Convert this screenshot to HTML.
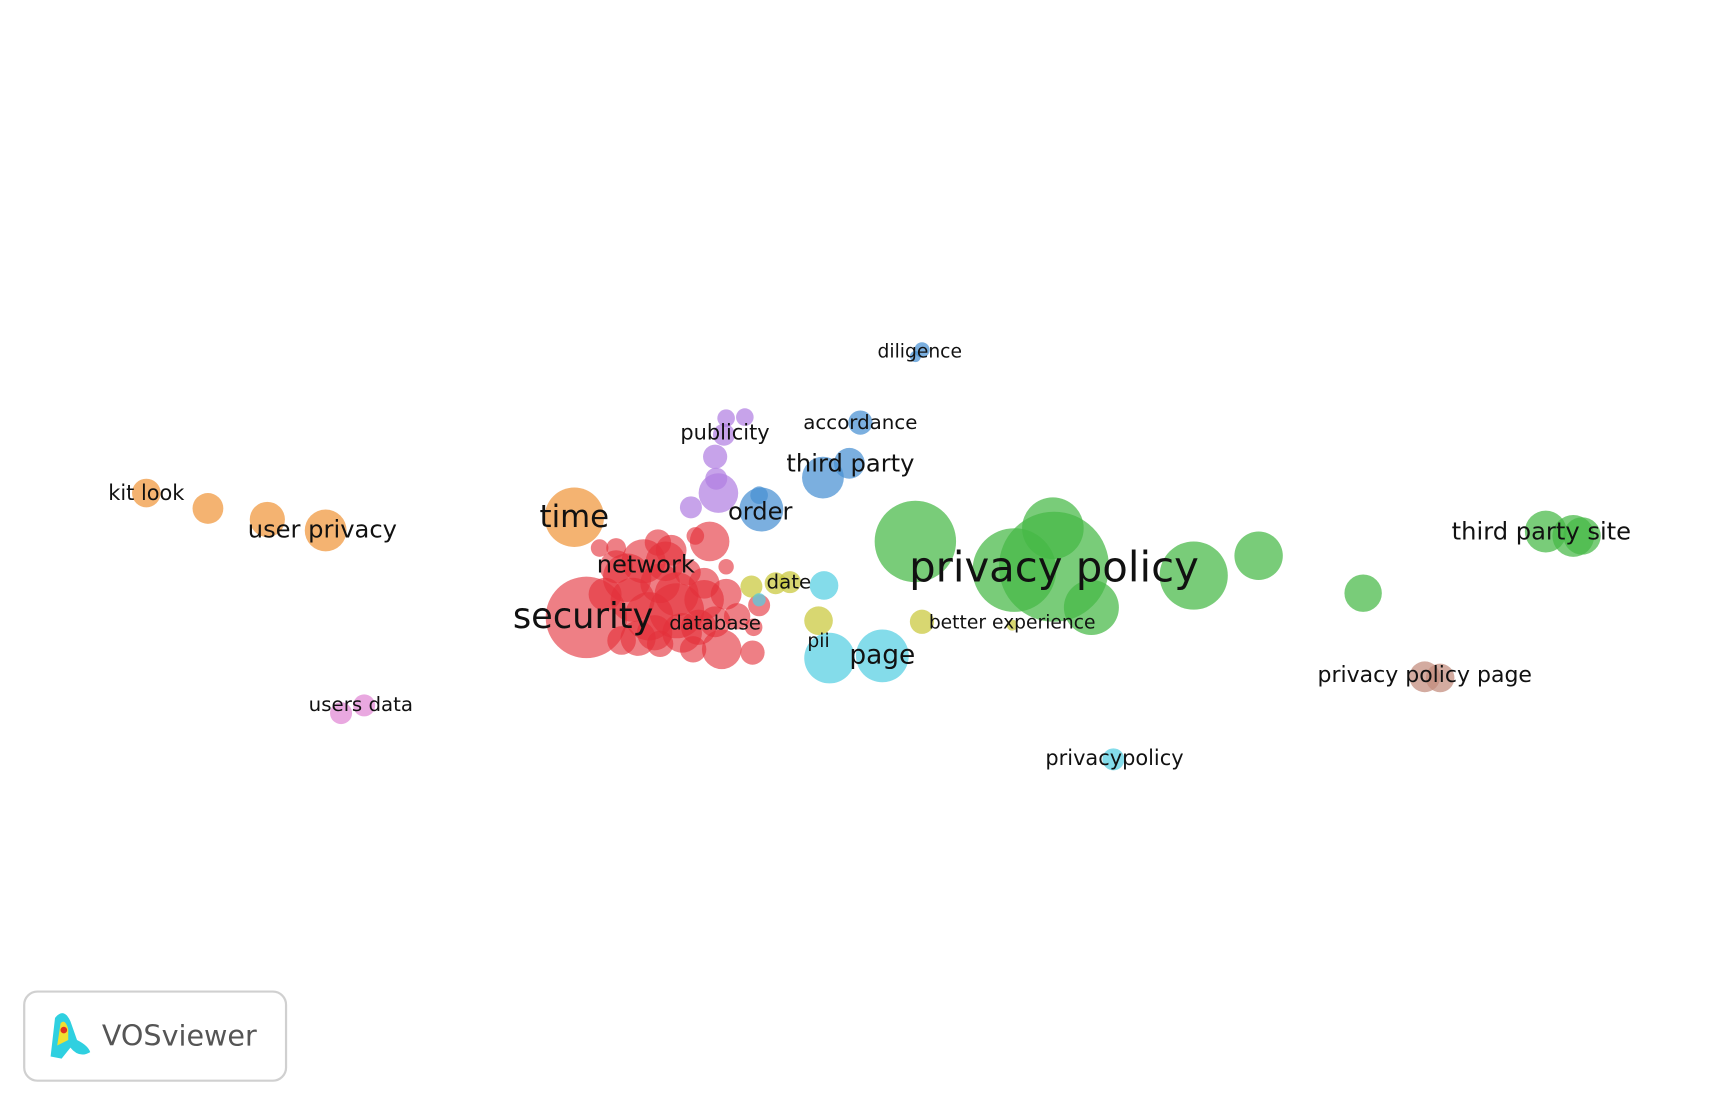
<!DOCTYPE html>
<html><head><meta charset="utf-8">
<style>
html,body{margin:0;padding:0;background:#fff;}
svg{display:block;}
text{font-family:"DejaVu Sans","Liberation Sans",sans-serif;fill:#111;text-anchor:middle;dominant-baseline:central;}
</style></head>
<body>
<svg id="map" width="1724" height="1106" viewBox="0 0 1567 1005" preserveAspectRatio="none" xmlns="http://www.w3.org/2000/svg">
<g id="nodes"></g>
<g id="labels"></g>
<g>
<rect x="22" y="901" width="238" height="81" rx="12" fill="#fff" stroke="#d0d0d0" stroke-width="2"/>
<path d="M46 960 L50 925 Q58 915 64 928 L70 945 Q80 950 82 956 Q72 962 64 952 L56 962 Z" fill="#2fd0e0"/>
<path d="M52 950 L55 930 Q59 925 62 935 L62 945 Z" fill="#f0e030"/>
<circle cx="58" cy="936" r="3" fill="#e03020"/>
<text x="163" y="941" style="font-size:26px;fill:#555;">VOSviewer</text>
</g>
</svg>
<script>
const colors = {red:"#e4303a",green:"#45b845",orange:"#f0953a",purple:"#b180e2",blue:"#4890d2",cyan:"#55cfe2",yellow:"#c9c83a",pink:"#e086d4",brown:"#c28a7c"};
const nodeX = [133,189,243,296,522,533,645,632,598,610,560,545,585,570,600,615,590,640,660,660,580,600,630,656,684,565,690,670,685,550,625,575,605,635,620,650,595,615,560,640,660,677,658,650,651,653,628,838,832,782,772,748,692,690,832,957,958,922,992,1085,1144,1239,1405,1430,1438,683,705,718,744,838,920,749,754,802,1012,690,310,331,1295,1309];
const nodeY = [448,462,472,482,470,561,492,487,493,500,498,498,510,525,530,555,560,545,540,515,580,585,590,590,593,582,550,560,570,540,520,545,510,570,575,565,575,540,515,530,380,379,395,415,435,448,461,318,324,384,421,434,463,450,492,480,515,518,552,523,505,539,483,487,487,533,530,529,564,565,568,532,598,596,690,545,648,641,615,616];
const nodeR = [13,14,16,19,27,37,18,8,12,14,9,8,20,22,18,25,22,18,14,7,16,12,12,18,11,13,10,12,8,15,12,20,18,16,18,14,16,20,15,14,8,8,10,11,10,18,10,7,5,11,14,19,20,8,37,28,50,38,25,31,22,17,19,19,17,10,10,10,13,11,5,13,23,24,10,6,10,10,14,13];
const nodeCluster = ["orange","orange","orange","orange","orange","red","red","red","red","red","red","red","red","red","red","red","red","red","red","red","red","red","red","red","red","red","red","red","red","red","red","red","red","red","red","red","red","red","red","red","purple","purple","purple","purple","purple","purple","purple","blue","blue","blue","blue","blue","blue","blue","green","green","green","green","green","green","green","green","green","green","green","yellow","yellow","yellow","yellow","yellow","yellow","cyan","cyan","cyan","cyan","cyan","pink","pink","brown","brown"];
const labelText = ["kit look","user privacy","time","security","network","database","date","pii","page","better experience","publicity","accordance","third party","order","diligence","privacy policy","third party site","privacy policy page","users data","privacypolicy"];
const labelX = [133,293,522,530,587,650,717,744,802,920,659,782,773,691,836,958,1401,1295,328,1013];
const labelY = [448,481,470,560,513,566,529,583,595,566,393,384,421,465,320,515,483,614,640,689];
const labelSize = [19,22,28,32,22,18,18,17,24,17,19,18,22,22,17,38,22,20,18,19];
const NS="http://www.w3.org/2000/svg";
const gN=document.getElementById('nodes');
for(let i=0;i<nodeX.length;i++){
  const c=document.createElementNS(NS,'circle');
  c.setAttribute('cx',nodeX[i]);c.setAttribute('cy',nodeY[i]);c.setAttribute('r',nodeR[i]);
  c.setAttribute('fill',colors[nodeCluster[i]]);c.setAttribute('fill-opacity',nodeCluster[i]==='red'?'0.62':'0.72');
  
  
  gN.appendChild(c);
}
const gL=document.getElementById('labels');
for(let i=0;i<labelText.length;i++){
  const t=document.createElementNS(NS,'text');
  t.setAttribute('x',labelX[i]);t.setAttribute('y',labelY[i]);
  t.style.fontSize=labelSize[i]+'px';
  t.textContent=labelText[i];
  
  
  gL.appendChild(t);
}
</script>
</body></html>
